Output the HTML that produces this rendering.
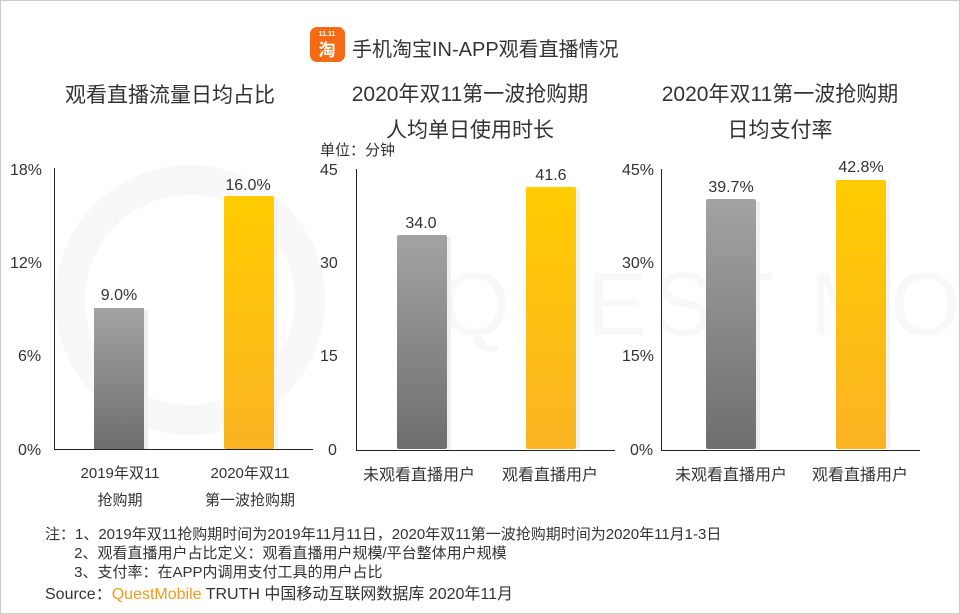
<!DOCTYPE html><html><head><meta charset="utf-8"><style>
body{margin:0;width:960px;height:614px;background:#fff;font-family:"Liberation Sans","Noto Sans CJK SC",sans-serif;color:#333;overflow:hidden}
.b{position:absolute;box-sizing:border-box}
.t{position:absolute;white-space:nowrap}
</style></head><body>
<div class="b" style="left:0;top:0;width:960px;height:614px;border:1px solid #ccc"></div>
<svg class="b" style="left:0;top:0" width="960" height="614">
<defs>
<linearGradient id="g" x1="0" y1="0" x2="0" y2="1"><stop offset="0" stop-color="#a3a3a3"/><stop offset="1" stop-color="#6e6e6e"/></linearGradient>
<linearGradient id="y" x1="0" y1="0" x2="0" y2="1"><stop offset="0" stop-color="#ffcc00"/><stop offset="1" stop-color="#fbb323"/></linearGradient>
</defs>
<circle cx="190" cy="300" r="120" fill="none" stroke="#f8f8f8" stroke-width="30"/>
<text x="440" y="335" font-size="90" fill="#f8f8f8" font-family="Liberation Sans" letter-spacing="6">QUEST MOBILE</text>
<g font-family="Liberation Sans" font-size="16" fill="#333">
<rect x="144" y="310" width="4" height="139" fill="#f0f0f0"/><rect x="94" y="308" width="50" height="141" fill="url(#g)"/>
<rect x="274" y="199" width="4" height="250" fill="#f3f3f3"/><rect x="224" y="196" width="50" height="253" rx="2" fill="url(#y)"/>
<path d="M54.5 168V449.5H313" stroke="#222" fill="none"/>
<text x="10" y="175">18%</text><text x="10" y="268">12%</text><text x="18" y="361">6%</text><text x="18" y="455">0%</text>
<text x="119" y="300" text-anchor="middle">9.0%</text><text x="248" y="190" text-anchor="middle">16.0%</text>
<rect x="447" y="237" width="4" height="212" fill="#f0f0f0"/><rect x="397" y="235" width="50" height="214" rx="2" fill="url(#g)"/>
<rect x="576" y="189" width="4" height="260" fill="#f3f3f3"/><rect x="526" y="187" width="50" height="262" rx="2" fill="url(#y)"/>
<path d="M356.5 169V450.5H615" stroke="#222" fill="none"/>
<text x="320" y="175">45</text><text x="320" y="268">30</text><text x="320" y="361">15</text><text x="328" y="455">0</text>
<text x="421" y="228" text-anchor="middle">34.0</text><text x="551" y="180" text-anchor="middle">41.6</text>
<rect x="756" y="201" width="4" height="248" fill="#f0f0f0"/><rect x="706" y="199" width="50" height="250" rx="2" fill="url(#g)"/>
<rect x="886" y="182" width="4" height="267" fill="#f3f3f3"/><rect x="836" y="180" width="50" height="269" rx="2" fill="url(#y)"/>
<path d="M661.5 169V450.5H920" stroke="#222" fill="none"/>
<text x="622" y="175">45%</text><text x="622" y="268">30%</text><text x="622" y="361">15%</text><text x="630" y="455">0%</text>
<text x="731" y="192" text-anchor="middle">39.7%</text><text x="861" y="172" text-anchor="middle">42.8%</text>
</g>
<rect x="310" y="27" width="35" height="35" rx="7" fill="#f56a14"/>
<text x="327" y="36" font-size="7" fill="#fff" text-anchor="middle" font-family="Liberation Sans" font-weight="bold">11.11</text>
<text x="327" y="56" font-size="17" fill="#fff" text-anchor="middle" font-family="Noto Sans CJK SC" font-weight="bold">淘</text>
</svg>
<div class="t" style="left:352px;top:33px;font-size:20px;color:#333">手机淘宝IN-APP观看直播情况</div>
<div class="t" style="left:60px;top:79px;font-size:21px;width:220px;text-align:center">观看直播流量日均占比</div>
<div class="t" style="left:330px;top:77px;font-size:21px;width:280px;text-align:center;line-height:36px">2020年双11第一波抢购期<br>人均单日使用时长</div>
<div class="t" style="left:640px;top:77px;font-size:21px;width:280px;text-align:center;line-height:36px">2020年双11第一波抢购期<br>日均支付率</div>
<div class="t" style="left:320px;top:139px;font-size:15px">单位：分钟</div>
<div class="t" style="left:55px;top:460px;font-size:15px;width:130px;text-align:center;line-height:27px">2019年双11<br>抢购期</div>
<div class="t" style="left:185px;top:460px;font-size:15px;width:130px;text-align:center;line-height:27px">2020年双11<br>第一波抢购期</div>
<div class="t" style="left:363px;top:461px;font-size:16px">未观看直播用户</div>
<div class="t" style="left:502px;top:461px;font-size:16px">观看直播用户</div>
<div class="t" style="left:675px;top:461px;font-size:16px">未观看直播用户</div>
<div class="t" style="left:812px;top:461px;font-size:16px">观看直播用户</div>
<div class="t" style="left:45px;top:525px;font-size:15px;line-height:19px">注：1、2019年双11抢购期时间为2019年11月11日，2020年双11第一波抢购期时间为2020年11月1-3日<br>&nbsp;&nbsp;&nbsp;&nbsp;&nbsp;&nbsp;&nbsp;2、观看直播用户占比定义：观看直播用户规模/平台整体用户规模<br>&nbsp;&nbsp;&nbsp;&nbsp;&nbsp;&nbsp;&nbsp;3、支付率：在APP内调用支付工具的用户占比</div>
<div class="t" style="left:45px;top:580px;font-size:16px">Source：<span style="color:#f39a1e">QuestMobile</span> TRUTH 中国移动互联网数据库 2020年11月</div>
</body></html>
